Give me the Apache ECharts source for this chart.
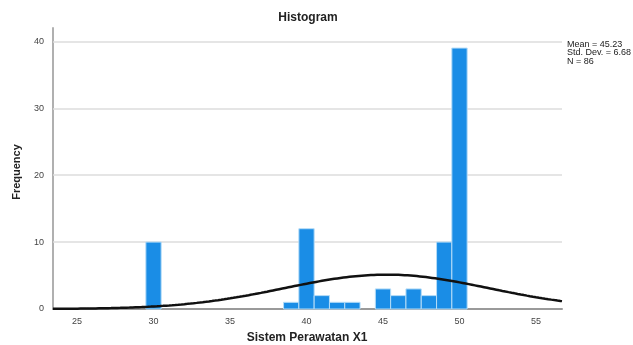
<!DOCTYPE html>
<html>
<head>
<meta charset="utf-8">
<script src="https://cdn.jsdelivr.net/npm/echarts@6/dist/echarts.min.js"></script>
<style>
  html, body { margin: 0; padding: 0; background: #fff; }
  #chart { width: 633px; height: 345px; }
</style>
</head>
<body>
<div id="chart"></div>
<script>
// Frequency of each score (bin width 1, centred on the score)
const scores = [30, 39, 40, 41, 42, 43, 45, 46, 47, 48, 49, 50];
const frequencies = [10, 1, 12, 2, 1, 1, 3, 2, 3, 2, 10, 39];

// Summary statistics shown beside the plot
const statMean = 45.23;
const statSd = 6.68;
const statN = 86;

const xTicks = [25, 30, 35, 40, 45, 50, 55];
const yTicks = [0, 10, 20, 30, 40];
const gridYValues = [10, 20, 30, 40];

const xMin = 23.43, xMax = 56.7;
const binWidth = 1;

// Fitted normal curve scaled to counts: N * width * pdf(x)
const curve = [];
for (let i = 0; i <= 333; i++) {
  const x = xMin + (xMax - xMin) * i / 333;
  const z = (x - statMean) / statSd;
  curve.push([x, statN * binWidth * Math.exp(-0.5 * z * z) / (statSd * Math.sqrt(2 * Math.PI))]);
}

const bins = scores.map((s, i) => [s, frequencies[i]]);

const chart = echarts.init(document.getElementById('chart'), null, { renderer: 'canvas' });
const font = 'Liberation Sans, Arial, sans-serif';

chart.setOption({
  animation: false,
  backgroundColor: '#ffffff',
  grid: { left: 53, right: 71, top: 28, bottom: 36, containLabel: false, outerBoundsMode: 'none' },
  xAxis: {
    type: 'value',
    min: xMin,
    max: xMax,
    axisLine: { show: true, lineStyle: { color: '#9a9a9a', width: 2 } },
    axisTick: { show: false },
    splitLine: { show: false },
    axisLabel: {
      customValues: xTicks,
      color: '#444',
      fontSize: 9,
      fontFamily: font,
      margin: 8
    }
  },
  yAxis: {
    type: 'value',
    min: 0,
    max: 42,
    axisLine: { show: true, lineStyle: { color: '#b0b0b0', width: 2 } },
    axisTick: { show: false },
    splitLine: { show: false },
    axisLabel: {
      customValues: yTicks,
      color: '#444',
      fontSize: 9,
      fontFamily: font,
      margin: 9
    }
  },
  series: [
    {
      // horizontal reference lines behind the bars
      type: 'line',
      data: [],
      z: 1,
      markLine: {
        silent: true,
        z: 1,
        symbol: 'none',
        label: { show: false },
        lineStyle: { color: '#dcdcdc', type: 'solid', width: 1.5 },
        data: gridYValues.map(v => ({ yAxis: v }))
      }
    },
    {
      type: 'custom',
      data: bins,
      renderItem: function (params, api) {
        const x = api.value(0), y = api.value(1);
        const p0 = api.coord([x - binWidth / 2, 0]);
        const p1 = api.coord([x + binWidth / 2, y]);
        return {
          type: 'rect',
          shape: { x: p0[0], y: p1[1], width: p1[0] - p0[0], height: p0[1] - p1[1] },
          style: { fill: '#1a8de6', stroke: '#b5dcf7', lineWidth: 1 }
        };
      },
      z: 6
    },
    {
      type: 'line',
      data: curve,
      showSymbol: false,
      smooth: false,
      lineStyle: { color: '#111', width: 2.5 },
      z: 7
    }
  ],
  graphic: [
    {
      type: 'text', x: 308, y: 18,
      style: { text: 'Histogram', fontFamily: font, fontSize: 12, fontWeight: 'bold', fill: '#222', align: 'center', verticalAlign: 'middle' }
    },
    {
      type: 'text', x: 307, y: 338,
      style: { text: 'Sistem Perawatan X1', fontFamily: font, fontSize: 12, fontWeight: 'bold', fill: '#222', align: 'center', verticalAlign: 'middle' }
    },
    {
      type: 'text', x: 17, y: 172, rotation: Math.PI / 2,
      style: { text: 'Frequency', fontFamily: font, fontSize: 11, fontWeight: 'bold', fill: '#222', align: 'center', verticalAlign: 'middle' }
    },
    {
      type: 'text', x: 567, y: 40,
      style: {
        text: 'Mean = ' + statMean.toFixed(2) + '\nStd. Dev. = ' + statSd.toFixed(2) + '\nN = ' + statN,
        fontFamily: font, fontSize: 9, lineHeight: 8.5, fill: '#222'
      }
    }
  ]
});
</script>
</body>
</html>
